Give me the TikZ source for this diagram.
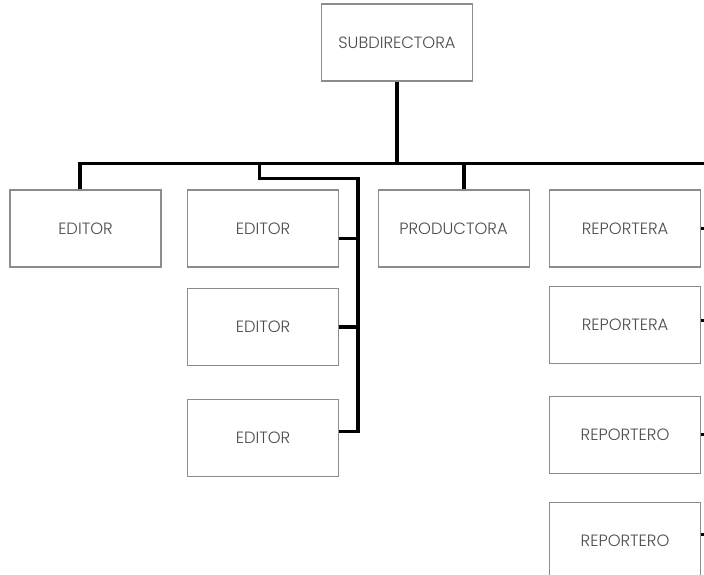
\documentclass[tikz,border=0pt]{standalone}
\usepackage{fontspec}
\setmainfont{Poppins}[UprightFont=* Light]
\usetikzlibrary{positioning}
\tikzstyle{cargo}=[draw=black!45, line width=0.6pt, minimum width=3.02cm,
  minimum height=1.54cm, inner sep=0pt, text=black!70, font=\fontsize{9.3}{11}\selectfont]
\tikzstyle{linea} = [draw, line width=2pt, color=black]
\newcommand{\cargo}[2]{node (c#1) [cargo] {#2}}

\begin{document}
\begin{tikzpicture}

\useasboundingbox (0,0) rectangle (14.08,-11.5);
\clip (0,0) rectangle (14.08,-11.5);
\coordinate (borde) at (14.08,0);

% Draw diagram elements
\path (7.94,-0.85)              \cargo{dir}{SUBDIRECTORA};

\path (1.71,-4.57)              \cargo{ed1}{EDITOR};
\path (ced1.east)+( 2.03, 0.0)  \cargo{ed2}{EDITOR};
\path (ced2.east)+( 2.29, 0.0)  \cargo{prod}{PRODUCTORA};
\path (cprod.east)+( 1.91, 0.0) \cargo{rep1}{REPORTERA};

\path (ced2.south)+( 0.0,-1.19) \cargo{ed3}{EDITOR};
\path (ced3.south)+( 0.0,-1.43) \cargo{ed4}{EDITOR};

\path (crep1.south)+( 0.0,-1.15) \cargo{rep2}{REPORTERA};
\path (crep2.south)+( 0.0,-1.41) \cargo{rep3}{REPORTERO};
\path (crep3.south)+( 0.0,-1.35) \cargo{rep4}{REPORTERO};

% Bus coordinates
\path (cdir.south)+(0.0,-1.64) coordinate (b0);
\path ([xshift=-0.11cm]ced1.north |- b0) coordinate (b1);
\path ([xshift=-0.07cm]ced2.north |- b0) coordinate (b2);
\path ([xshift=0.21cm]cprod.north |- b0) coordinate (b3);
\path (b2)+(0.0,-0.3) coordinate (e1);
\path (ced2.east)+(0.38,0.0) coordinate (col);

% Draw lines between elements
\path [linea] (cdir.south) -- (b0);
\path [linea] (b1 |- ced1.north) -- (b1) -- (borde |- b0);
\path [linea] (b3) -- (b3 |- cprod.north);

\path [linea] (b2) -- (e1) -| ([yshift=0.12cm]col |- ced4.east)
  -- ([yshift=0.12cm]ced4.east);
\path [linea] ([yshift=-0.2cm]ced2.east) -- ([yshift=-0.2cm]col |- ced2.east);
\path [linea] (ced3.east) -- (col |- ced3.east);

\path [linea] (crep1.east) -- (borde |- crep1.east);
\path [linea] ([yshift=0.09cm]crep2.east) -- ([yshift=0.09cm]borde |- crep2.east);
\path [linea] (crep3.east) -- (borde |- crep3.east);
\path [linea] ([yshift=0.13cm]crep4.east) -- ([yshift=0.13cm]borde |- crep4.east);

\end{tikzpicture}
\end{document}
